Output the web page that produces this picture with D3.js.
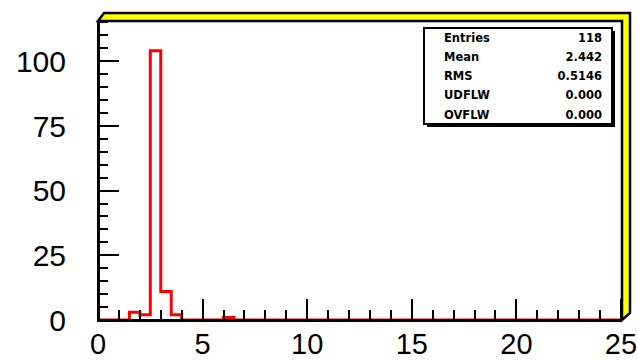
<!DOCTYPE html>
<html>
<head>
<meta charset="utf-8">
<script src="https://cdn.jsdelivr.net/npm/d3@7/dist/d3.min.js"></script>
<style>
  html, body { margin: 0; padding: 0; background: #fff; }
  svg { display: block; }
</style>
</head>
<body>
<svg id="chart" width="639" height="360"></svg>
<script>
// ---- data ----
const binWidth = 0.5;
const xDomain = [0, 25];
const counts = [0, 0, 0, 3, 2, 104, 11, 2, 0, 0,
                0, 0, 1, 0, 0, 0, 0, 0, 0, 0,
                0, 0, 0, 0, 0, 0, 0, 0, 0, 0,
                0, 0, 0, 0, 0, 0, 0, 0, 0, 0,
                0, 0, 0, 0, 0, 0, 0, 0, 0, 0];
const yMax = 115.5;
const xTickLabels = [0, 5, 10, 15, 20, 25];
const yTickLabels = [0, 25, 50, 75, 100];
const statLabels = ["Entries", "Mean", "RMS", "UDFLW", "OVFLW"];
const statValues = ["118", "2.442", "0.5146", "0.000", "0.000"];

// ---- layout ----
const svg = d3.select("#chart");
const L = 98, R = 621, T = 21, B = 320;
const x = d3.scaleLinear().domain(xDomain).range([L, R]);
const y = d3.scaleLinear().domain([0, yMax]).range([B, T]);

// frame bevel (top/right highlight)
svg.append("polygon")
  .attr("points", [[L, T], [L + 6, 13], [630, 13], [630, B - 7], [R + 1, B], [R + 1, T]].map(p => p.join(",")).join(" "))
  .attr("fill", "#ffff00")
  .attr("stroke", "#000")
  .attr("stroke-width", 2.5)
  .attr("stroke-linejoin", "miter");

// histogram (step outline)
const pts = [];
pts.push([x(0), y(0)]);
counts.forEach((c, i) => {
  const x0 = x(i * binWidth), x1 = x((i + 1) * binWidth);
  pts.push([x0, y(c)]);
  pts.push([x1, y(c)]);
});
pts.push([x(xDomain[1]), y(0)]);
svg.append("path")
  .attr("d", d3.line()(pts))
  .attr("fill", "none")
  .attr("stroke", "#ff0000")
  .attr("stroke-width", 3)
  .attr("stroke-linejoin", "miter");

// y axis ticks
const yMinor = d3.range(0, yMax, 5);
svg.append("g").selectAll("line").data(yMinor).join("line")
  .attr("x1", L).attr("x2", d => L + (d % 25 === 0 ? 21 : 10))
  .attr("y1", d => Math.round(y(d))).attr("y2", d => Math.round(y(d)))
  .attr("stroke", "#000").attr("stroke-width", 2.5)
  .attr("shape-rendering", "crispEdges");

// x axis ticks
const xMinor = d3.range(0, 25.01, 1);
svg.append("g").selectAll("line").data(xMinor).join("line")
  .attr("x1", d => Math.round(x(d))).attr("x2", d => Math.round(x(d)))
  .attr("y1", B).attr("y2", d => B - (d % 5 === 0 ? 21 : 10))
  .attr("stroke", "#000").attr("stroke-width", 2.5)
  .attr("shape-rendering", "crispEdges");

// axis lines
svg.append("line").attr("x1", L).attr("x2", L).attr("y1", T - 1).attr("y2", B + 1.5)
  .attr("stroke", "#000").attr("stroke-width", 3).attr("shape-rendering", "crispEdges");
svg.append("line").attr("x1", L - 1.5).attr("x2", R + 1).attr("y1", B).attr("y2", B)
  .attr("stroke", "#000").attr("stroke-width", 3).attr("shape-rendering", "crispEdges");

// axis labels
const labelFont = "'Liberation Sans', Arial, sans-serif";
svg.append("g").selectAll("text").data(yTickLabels).join("text")
  .attr("x", 66).attr("y", d => y(d))
  .attr("dy", "0.36em")
  .attr("text-anchor", "end")
  .attr("font-family", labelFont).attr("font-size", 30)
  .text(d => d);
svg.append("g").selectAll("text").data(xTickLabels).join("text")
  .attr("x", d => x(d)).attr("y", 354)
  .attr("text-anchor", "middle")
  .attr("font-family", labelFont).attr("font-size", 29)
  .text(d => d);

// stats box
const bx = 424, by = 28, bw = 188, bh = 96;
svg.append("rect").attr("x", bx + 3).attr("y", by + 3).attr("width", bw).attr("height", bh)
  .attr("fill", "#000");
svg.append("rect").attr("x", bx).attr("y", by).attr("width", bw).attr("height", bh)
  .attr("fill", "#fff").attr("stroke", "#000").attr("stroke-width", 2)
  .attr("shape-rendering", "crispEdges");
const rowH = bh / statLabels.length;
const statFont = "'DejaVu Sans', sans-serif";
svg.append("g").selectAll("text").data(statLabels).join("text")
  .attr("x", bx + 20).attr("y", (d, i) => by + rowH * (i + 0.5))
  .attr("dy", "0.36em")
  .attr("font-family", statFont).attr("font-weight", "bold").attr("font-size", 11.5)
  .text(d => d);
svg.append("g").selectAll("text").data(statValues).join("text")
  .attr("x", bx + bw - 10).attr("y", (d, i) => by + rowH * (i + 0.5))
  .attr("dy", "0.36em")
  .attr("text-anchor", "end")
  .attr("font-family", statFont).attr("font-weight", "bold").attr("font-size", 11.5)
  .text(d => d);
</script>
</body>
</html>
